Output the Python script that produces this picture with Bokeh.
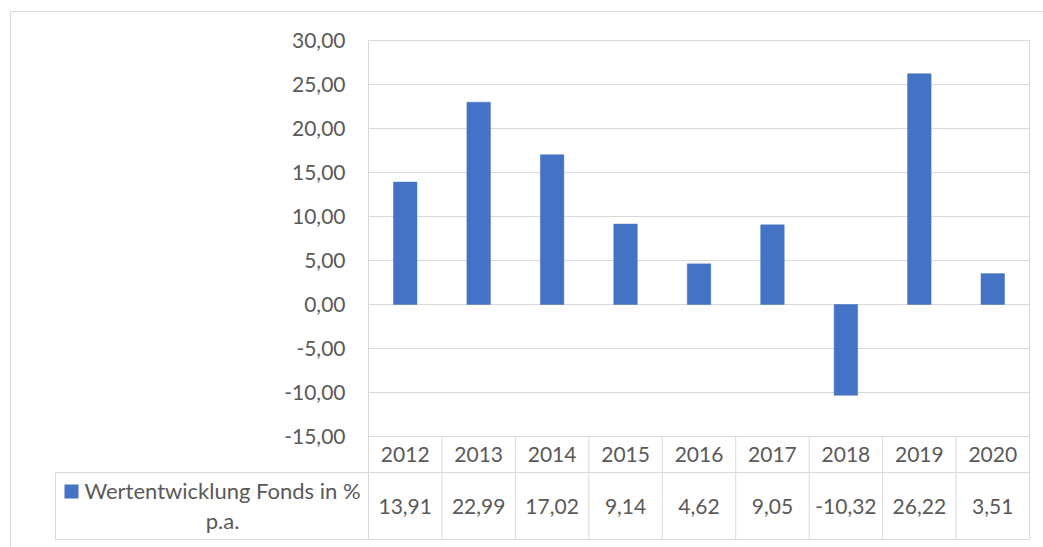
from bokeh.plotting import figure
from bokeh.models import Range1d, ColumnDataSource
from bokeh.core.properties import value
from bokeh.embed import file_html
from bokeh.resources import INLINE

# ---- data ----
years = ["2012", "2013", "2014", "2015", "2016", "2017", "2018", "2019", "2020"]
performance = [13.91, 22.99, 17.02, 9.14, 4.62, 9.05, -10.32, 26.22, 3.51]
y_ticks = [-15, -10, -5, 0, 5, 10, 15, 20, 25, 30]
series_name_line1 = "Wertentwicklung Fonds in %"
series_name_line2 = "p.a."


def de(v):
    return f"{v:.2f}".replace(".", ",")


# ---- style ----
FONT = "Lato"
FS = "21px"
FS_LEG = "22px"
TXT = "#595959"
GRID = "#d9d9d9"
BAR = "#4472C4"

# ---- layout (pixel geometry of the canvas) ----
W, H = 1043, 547
PLOT_L, PLOT_R, PLOT_T = 368, 1029, 40
N = len(years)
COLW = (PLOT_R - PLOT_L) / N          # pixels per category
Y_TOP, Y_MIN = max(y_ticks), min(y_ticks)
PPU = 8.8                              # pixels per value unit


def dx(px):   # canvas pixel -> x data
    return (px - PLOT_L) / COLW


def dy(py):   # canvas pixel -> y data
    return Y_TOP - (py - PLOT_T) / PPU


ROW_SPLIT = dy(472)
TABLE_BOT = dy(539)
LEG_L = dx(55)
YEAR_ROW_Y = (Y_MIN + ROW_SPLIT) / 2
VAL_ROW_Y = (ROW_SPLIT + TABLE_BOT) / 2

p = figure(width=W, height=H, x_range=Range1d(dx(0), dx(W)), y_range=Range1d(dy(H), dy(0)),
           output_backend="svg", toolbar_location=None,
           min_border=0, x_axis_location=None, y_axis_location=None)
p.outline_line_color = None
p.background_fill_color = "white"
p.border_fill_color = "white"
p.grid.visible = False

xs = [i + 0.5 for i in range(N)]
src = ColumnDataSource(dict(x=xs, year=years, perf=performance,
                            label=[de(v) for v in performance],
                            yr=[YEAR_ROW_Y] * N, vr=[VAL_ROW_Y] * N))

# outer chart border
p.segment(x0=[dx(10), dx(10)], y0=[dy(11), dy(11)], x1=[dx(W + 5), dx(10)], y1=[dy(11), dy(H + 5)],
          line_color=GRID, line_width=1)

# horizontal gridlines
gsrc = ColumnDataSource(dict(y=y_ticks, lab=[de(t) for t in y_ticks]))
p.segment(x0=0, x1=N, y0="y", y1="y", source=gsrc, line_color=GRID, line_width=1)

# y tick labels
p.text(x=0, y="y", text="lab", source=gsrc, x_offset=-23, text_align="right",
       text_baseline="middle", text_font=value(FONT), text_font_size=FS, text_color=TXT)

# bars
p.vbar(x="x", top="perf", bottom=0, width=0.32, source=src,
       fill_color=BAR, line_color=BAR, line_width=0.5)

# plot area + table vertical lines
p.segment(x0=[0, N], x1=[0, N], y0=[Y_TOP, Y_TOP], y1=[TABLE_BOT, TABLE_BOT],
          line_color=GRID, line_width=1)
p.segment(x0=list(range(1, N)), x1=list(range(1, N)), y0=Y_MIN, y1=TABLE_BOT,
          line_color=GRID, line_width=1)
# table horizontal lines + legend cell
p.segment(x0=[LEG_L, LEG_L, LEG_L], x1=[N, N, LEG_L],
          y0=[ROW_SPLIT, TABLE_BOT, ROW_SPLIT], y1=[ROW_SPLIT, TABLE_BOT, TABLE_BOT],
          line_color=GRID, line_width=1)

# table texts
p.text(x="x", y="yr", text="year", source=src, text_align="center",
       text_baseline="middle", text_font=value(FONT), text_font_size=FS, text_color=TXT)
p.text(x="x", y="vr", text="label", source=src, text_align="center",
       text_baseline="middle", text_font=value(FONT), text_font_size=FS, text_color=TXT)

# legend key + series name
p.quad(left=dx(64), right=dx(78), top=dy(484), bottom=dy(498),
       fill_color=BAR, line_color=None)
p.text(x=[dx(222), dx(222)], y=[dy(489.5), dy(519.5)],
       text=[series_name_line1, series_name_line2], text_align="center",
       text_baseline="middle", text_font=value(FONT), text_font_size=FS_LEG, text_color=TXT)

open("out.html", "w").write(file_html(p, INLINE))
